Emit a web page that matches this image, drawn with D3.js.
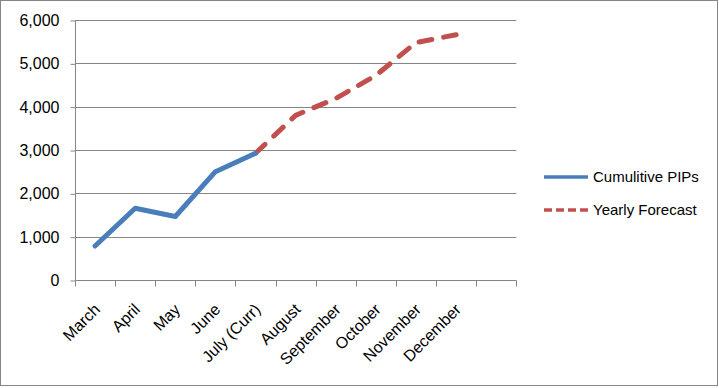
<!DOCTYPE html>
<html><head><meta charset="utf-8">
<script src="https://cdn.jsdelivr.net/npm/d3@7"></script>
<style>body{margin:0;background:#fff}svg{display:block}text{font-family:"Liberation Sans",Arial,sans-serif;fill:#000}</style>
</head><body><svg id="c" width="719" height="388"></svg>
<script>
const categories = ["March","April","May","June","July (Curr)","August","September","October","November","December",""];
const cumulative = [785,1655,1465,2500,2925,null,null,null,null,null,null];
const forecast = [null,null,null,null,2925,3800,4190,4720,5480,5660,null];
const yTicks = [0,1000,2000,3000,4000,5000,6000];
const seriesNames = ["Cumulitive PIPs","Yearly Forecast"];

const svg = d3.select("#c");
const grey = "#868686";
svg.append("rect").attr("x",0.5).attr("y",0.5).attr("width",717).attr("height",385)
  .attr("fill","#fff").attr("stroke",grey);

const x = d3.scaleBand().domain(categories).range([75,516.3]);
const y = d3.scaleLinear().domain([0,6000]).range([280,20]);

// gridlines
svg.append("g").selectAll("line").data(yTicks.filter(d=>d>0)).join("line")
  .attr("x1",75).attr("x2",516.3).attr("y1",d=>Math.round(y(d))+0.5).attr("y2",d=>Math.round(y(d))+0.5)
  .attr("stroke",grey);

// y axis
const ya = svg.append("g").attr("transform","translate(75.5,0.5)")
  .call(d3.axisLeft(y).tickValues(yTicks).tickSize(5).tickPadding(11).tickFormat(d3.format(",")));
ya.select(".domain").attr("stroke",grey).attr("d","M0,"+Math.round(y(6000))+"V"+Math.round(y(0)));
ya.selectAll(".tick line").attr("stroke",grey);
ya.selectAll(".tick text").style("font-size","16px").attr("fill","#000");

// x axis
const xa = svg.append("g").attr("transform","translate(0,"+(Math.round(y(0))+0.5)+")");
xa.append("line").attr("x1",75).attr("x2",516.3).attr("stroke",grey);
const edges = categories.map(c=>x(c)).concat([x.range()[1]]);
xa.selectAll("line.t").data(edges).join("line").attr("class","t")
  .attr("x1",d=>Math.round(d)+0.5).attr("x2",d=>Math.round(d)+0.5).attr("y1",0).attr("y2",6).attr("stroke",grey);
xa.selectAll("text").data(categories).join("text")
  .attr("transform",d=>"translate("+(x(d)+x.bandwidth()/2+2)+",26) rotate(-45)")
  .attr("text-anchor","end").attr("dy","0.35em").style("font-size","16px").text(d=>d);

const cx = (d,i)=>x(categories[i])+x.bandwidth()/2;
const line = d3.line().defined(d=>d!=null).x((d,i)=>cx(d,i)).y(d=>y(d));

svg.append("path").datum(forecast).attr("d",line).attr("fill","none")
  .attr("stroke","#C0504D").attr("stroke-width",5).attr("stroke-linecap","round").attr("stroke-linejoin","round")
  .attr("stroke-dasharray","13,12");
svg.append("path").datum(cumulative).attr("d",line).attr("fill","none")
  .attr("stroke","#4A7EBB").attr("stroke-width",5).attr("stroke-linecap","round").attr("stroke-linejoin","round");

// legend
const lg = svg.append("g");
const lcol = ["#4A7EBB","#C0504D"], ly = [177,210];
seriesNames.forEach((n,i)=>{
  lg.append("line").attr("x1",544).attr("x2",588).attr("y1",ly[i]).attr("y2",ly[i])
    .attr("stroke",lcol[i]).attr("stroke-width",3.5).attr("stroke-dasharray",i?"8,4":null);
  lg.append("text").attr("x",593).attr("y",ly[i]).attr("dy","0.35em").style("font-size","15px").text(n);
});
</script></body></html>
